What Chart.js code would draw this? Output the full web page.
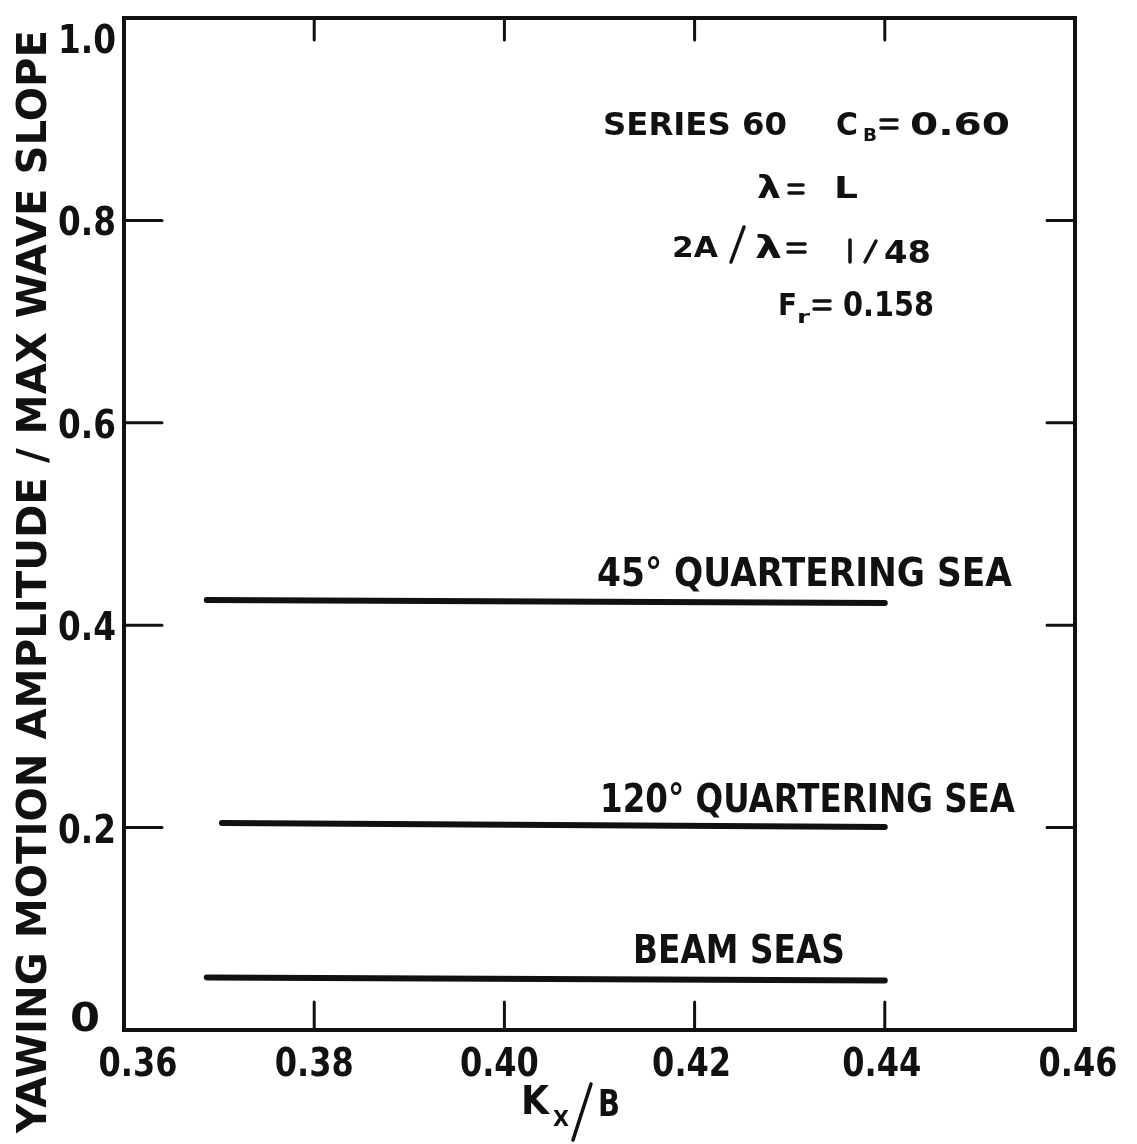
<!DOCTYPE html>
<html>
<head>
<meta charset="utf-8">
<script src="https://cdn.jsdelivr.net/npm/chart.js@4.4.1/dist/chart.umd.min.js"></script>
<style>
  html, body { margin: 0; padding: 0; background: #fff; }
  #wrap { width: 1137px; height: 1144px; position: relative; }
</style>
</head>
<body>
<div id="wrap"><canvas id="chart"></canvas></div>
<script>
// ---- data ----
const xTicks = [0.36, 0.38, 0.40, 0.42, 0.44, 0.46];
const xTickLabels = ['0.36', '0.38', '0.40', '0.42', '0.44', '0.46'];
const yTicks = [0, 0.2, 0.4, 0.6, 0.8, 1.0];
const yTickLabels = ['0', '0.2', '0.4', '0.6', '0.8', '1.0'];

const seriesNames = ['45° QUARTERING SEA', '120° QUARTERING SEA', 'BEAM SEAS'];
const kxB45 = [0.3687, 0.44];
const amp45 = [0.425, 0.422];
const kxB120 = [0.3703, 0.44];
const amp120 = [0.2045, 0.2006];
const kxBBeam = [0.3687, 0.44];
const ampBeam = [0.052, 0.049];

const FONT = '"DejaVu Sans", sans-serif';
const CAP = 0.729; // cap height ratio of DejaVu Sans

function pts(xs, ys) {
    return xs.map((x, i) => ({ x: x, y: ys[i] }));
}

// draw text stretched to fit [x0, x1] with given baseline and cap height
function fitText(ctx, s, x0, x1, yBase, capH, bold) {
    const size = capH / CAP;
    ctx.save();
    ctx.font = (bold ? 'bold ' : '') + size + 'px ' + FONT;
    ctx.textAlign = 'left';
    ctx.textBaseline = 'alphabetic';
    const w = ctx.measureText(s).width;
    ctx.translate(x0, yBase);
    ctx.scale((x1 - x0) / w, 1);
    ctx.fillText(s, 0, 0);
    ctx.restore();
}

function slash(ctx, x0, y0, x1, y1) {
    ctx.beginPath();
    ctx.moveTo(x0, y0);
    ctx.lineTo(x1, y1);
    ctx.stroke();
}

// hand-lettered style equals sign
function eq(ctx, x0, x1, yc) {
    ctx.beginPath();
    ctx.moveTo(x0, yc - 4); ctx.lineTo(x1, yc - 4);
    ctx.moveTo(x0, yc + 4); ctx.lineTo(x1, yc + 4);
    ctx.stroke();
}

const decorPlugin = {
    id: 'decor',
    afterDraw(chart) {
        const ctx = chart.ctx;
        const a = chart.chartArea;
        const xs = chart.scales.x;
        const ys = chart.scales.y;
        ctx.save();
        ctx.fillStyle = '#111';
        ctx.strokeStyle = '#111';
        ctx.lineCap = 'round';

        // frame
        ctx.lineWidth = 4;
        ctx.strokeRect(a.left, a.top, a.right - a.left, a.bottom - a.top);

        // inward ticks
        ctx.lineWidth = 3;
        ctx.beginPath();
        xTicks.slice(1, -1).forEach(v => {
            const px = xs.getPixelForValue(v);
            ctx.moveTo(px, a.bottom); ctx.lineTo(px, a.bottom - 28);
            ctx.moveTo(px, a.top); ctx.lineTo(px, a.top + 22);
        });
        yTicks.slice(1, -1).forEach(v => {
            const py = ys.getPixelForValue(v);
            ctx.moveTo(a.left, py); ctx.lineTo(a.left + 38, py);
            ctx.moveTo(a.right, py); ctx.lineTo(a.right - 28, py);
        });
        ctx.stroke();

        // x tick labels
        const xShift = [14, 0, -5, -3, -3, 3];
        xTicks.forEach((v, i) => {
            const c = xs.getPixelForValue(v) + xShift[i];
            const w = 79;
            fitText(ctx, xTickLabels[i], c - w / 2, c + w / 2, 1076, 29, true);
        });

        // y tick labels (right aligned near the axis)
        const yShift = [-14, 0, 0, 0, 0, 20];
        yTicks.forEach((v, i) => {
            const py = ys.getPixelForValue(v) + yShift[i];
            const s = yTickLabels[i];
            const w = s.length === 1 ? 30 : 58;
            const right = s.length === 1 ? 100 : 116;
            fitText(ctx, s, right - w, right, py + 15, 29, true);
        });

        // y axis title
        ctx.save();
        ctx.translate(46, 1133);
        ctx.rotate(-Math.PI / 2);
        fitText(ctx, 'YAWING MOTION AMPLITUDE / MAX WAVE SLOPE', 0, 1103, 0, 30, true);
        ctx.restore();

        // x axis title  K_x / B
        fitText(ctx, 'K', 521, 549, 1114, 28, true);
        fitText(ctx, 'X', 553, 569, 1126, 15, true);
        ctx.lineWidth = 3.5;
        slash(ctx, 591, 1084, 573, 1140);
        fitText(ctx, 'B', 598, 620, 1116, 27, true);

        // header block
        ctx.lineWidth = 3.5;
        fitText(ctx, 'SERIES 60', 603, 787, 135, 23, true);
        fitText(ctx, 'C', 836, 858, 135, 23, true);
        fitText(ctx, 'B', 863, 877, 141, 13, true);
        eq(ctx, 881, 897, 124);
        fitText(ctx, '0.60', 910, 1010, 135, 23, true);

        fitText(ctx, 'λ', 757, 781, 198, 23, true);
        eq(ctx, 789, 803, 189);
        fitText(ctx, 'L', 834, 858, 198, 22, true);

        fitText(ctx, '2A', 672, 718, 257, 21, true);
        slash(ctx, 744, 227, 731, 262);
        fitText(ctx, 'λ', 755, 782, 258, 23, true);
        eq(ctx, 788, 805, 248);
        slash(ctx, 850, 240, 850, 262);
        slash(ctx, 876, 241, 865, 262);
        fitText(ctx, '48', 884, 931, 263, 23, true);

        fitText(ctx, 'F', 778, 797, 315, 22, true);
        fitText(ctx, 'r', 797, 810, 323, 13, true);
        eq(ctx, 814, 830, 305);
        fitText(ctx, '0.158', 843, 934, 316, 24, true);

        // curve labels
        fitText(ctx, seriesNames[0], 597, 1012, 586, 29, true);
        fitText(ctx, seriesNames[1], 600, 1015, 812, 29, true);
        fitText(ctx, seriesNames[2], 633, 845, 963, 28, true);

        ctx.restore();
    }
};

const lineStyle = {
    showLine: true,
    borderColor: '#111',
    borderWidth: 6,
    borderCapStyle: 'round',
    pointRadius: 0,
    fill: false
};

new Chart(document.getElementById('chart'), {
    type: 'scatter',
    data: {
        datasets: [
            Object.assign({ label: seriesNames[0], data: pts(kxB45, amp45) }, lineStyle),
            Object.assign({ label: seriesNames[1], data: pts(kxB120, amp120) }, lineStyle),
            Object.assign({ label: seriesNames[2], data: pts(kxBBeam, ampBeam) }, lineStyle)
        ]
    },
    options: {
        responsive: true,
        maintainAspectRatio: false,
        animation: false,
        layout: { padding: { top: 18, right: 62, left: 0, bottom: 0 } },
        plugins: {
            legend: { display: false },
            tooltip: { enabled: false }
        },
        scales: {
            x: {
                type: 'linear',
                min: 0.36,
                max: 0.46,
                grid: { display: false },
                border: { display: false },
                ticks: { display: false },
                afterFit(scale) { scale.height = 114; }
            },
            y: {
                type: 'linear',
                min: 0,
                max: 1,
                grid: { display: false },
                border: { display: false },
                ticks: { display: false },
                afterFit(scale) { scale.width = 124; }
            }
        }
    },
    plugins: [decorPlugin]
});
</script>
</body>
</html>
